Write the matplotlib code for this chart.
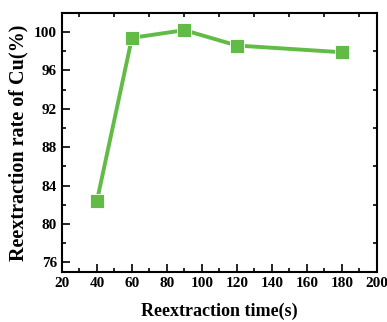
import matplotlib
matplotlib.use("Agg")
import matplotlib.pyplot as plt
from matplotlib.ticker import MultipleLocator

plt.rcParams["font.family"] = "Liberation Serif"
plt.rcParams["font.weight"] = "bold"

# reextraction time (s) and Cu reextraction rate (%)
time_s = [40, 60, 90, 120, 180]
rate_cu = [82.4, 99.4, 100.2, 98.6, 97.9]

fig = plt.figure(figsize=(3.87, 3.22), dpi=100)
ax = fig.add_axes([0.160, 0.155, 0.814, 0.805])

ax.plot(time_s, rate_cu, "-s", color="#62bb46", lw=2.8, ms=10.5,
        mec="white", mew=0.6)

ax.set_xlim(20, 200)
ax.set_ylim(75, 102)
ax.xaxis.set_major_locator(MultipleLocator(20))
ax.xaxis.set_minor_locator(MultipleLocator(10))
ax.yaxis.set_major_locator(MultipleLocator(4))
ax.yaxis.set_minor_locator(MultipleLocator(2))
ax.tick_params(which="both", direction="in", top=True, right=True, labelsize=11, width=1.2)
ax.tick_params(which="major", length=6)
ax.tick_params(which="minor", length=3)
ax.tick_params(axis="x", which="major", top=False)
ax.tick_params(axis="y", which="major", right=False)
for s in ax.spines.values():
    s.set_linewidth(1.5)

ax.set_xlabel("Reextraction time(s)", fontsize=13, fontweight="bold", labelpad=9)
ax.set_ylabel("Reextraction rate of Cu(%)", fontsize=14.5, fontweight="bold", labelpad=4)

fig.savefig("out.png", dpi=100)
